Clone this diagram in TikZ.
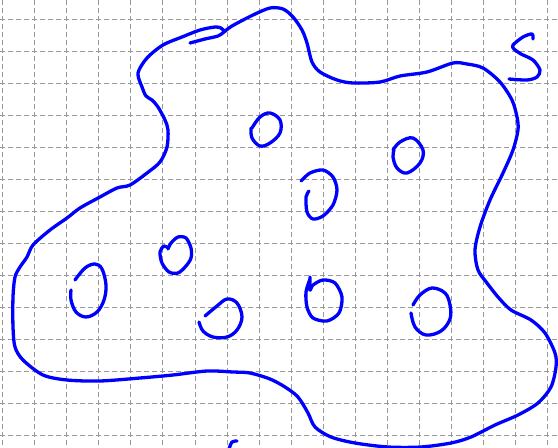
\documentclass[tikz,border=0pt]{standalone}
\begin{document}
\begin{tikzpicture}[x=1pt,y=-1pt,
  gridline/.style={draw=gray!80,line width=1pt,dash pattern=on 5pt off 3pt},
  ink/.style={draw=blue,line width=3.3pt,line cap=round,line join=round}]
\useasboundingbox (0,0) rectangle (558,448);
\fill[white] (0,0) rectangle (558,448);
% grid
\foreach \k in {0,...,17} {\draw[gridline] ({2.7+32.05*\k},0) -- ({2.7+32.05*\k},448);}
\foreach \k in {0,...,13} {\draw[gridline] (0,{19.5+32*\k}) -- (558,{19.5+32*\k});}
% outline
\draw[ink] plot[smooth,tension=0.5] coordinates {
 (190,43) (205,39) (218,36) (224,32) (232,26) (253,15) (270,8) (283,9) (293,17)
 (302,30) (307,43) (312,62) (320,72) (337,80) (353,83) (380,82) (400,76) (427,72)
 (453,63) (467,64) (483,68) (500,82) (512,100) (517,117) (518,130) (513,150)
 (503,173) (490,200) (480,227) (475,250) (478,270) (487,283) (498,297) (511,310)
 (531,320) (545,333) (555,353) (556,367) (551,387) (538,403) (518,415) (495,425)
 (471,437) (451,443) (421,447) (388,447) (355,443) (331,437) (315,427) (308,413)
 (298,397) (285,387) (270,379) (250,373) (233,372) (207,371) (173,375) (140,378)
 (100,381) (67,380) (43,375) (23,360) (15,347) (13,327) (13,297) (15,277) (20,267)
 (27,257) (33,245) (50,230) (67,218) (80,208) (100,197) (117,188) (130,185)
 (147,173) (160,162) (167,147) (168,130) (165,120) (158,107) (152,100) (146,96)
 (142,87) (138,73) (147,58) (163,45) (182,37) (200,30) (215,27) (221,28) (224,31)};
% S label
\draw[ink] plot[smooth,tension=0.5] coordinates {
 (533,39) (532,34) (523,37) (513,45) (514,49) (521,54) (533,60) (540,70) (537,77)
 (527,80) (509,79)};
% small mark at bottom
\draw[ink] plot[smooth] coordinates {(229,449) (232,442) (237,441)};
% circles
\draw[ink] plot[smooth,tension=0.6] coordinates {
 (75,280) (85,268) (95,264) (102,269) (106,285) (104,300) (97,312) (86,317)
 (76,312) (71,300) (71,290)};
\draw[ink] plot[smooth,tension=0.5] coordinates {
 (168,249) (171,243) (178,237) (186,238) (191,248) (191,258) (186,266) (178,273)
 (169,272) (162,263) (160,252) (164,246) (168,248)};
\draw[ink] plot[smooth,tension=0.6] coordinates {
 (205,316) (217,306) (227,299) (237,303) (242,317) (237,330) (227,337) (213,337)
 (203,331) (199,322)};
\draw[ink] plot[smooth,tension=0.6] coordinates {
 (252,128) (260,117) (270,113) (280,120) (280,133) (270,143) (260,146) (252,138)
 (251,128)};
\draw[ink] plot[smooth,tension=0.6] coordinates {
 (393,150) (400,142) (413,138) (423,150) (420,163) (407,173) (397,168) (393,157)
 (394,150)};
\draw[ink] plot[smooth,tension=0.5] coordinates {
 (301,181) (310,173) (323,170) (333,177) (337,190) (333,205) (323,216) (313,219)
 (307,212) (306,197) (309,191)};
\draw[ink] plot[smooth,tension=0.5] coordinates {
 (310,277) (310,290) (313,285) (323,280) (335,283) (342,297) (339,313) (327,321)
 (313,318) (307,307) (306,292) (310,279)};
\draw[ink] plot[smooth,tension=0.6] coordinates {
 (411,313) (415,327) (426,335) (441,331) (450,319) (450,305) (445,293) (432,288)
 (420,295) (413,305)};
\end{tikzpicture}
\end{document}
